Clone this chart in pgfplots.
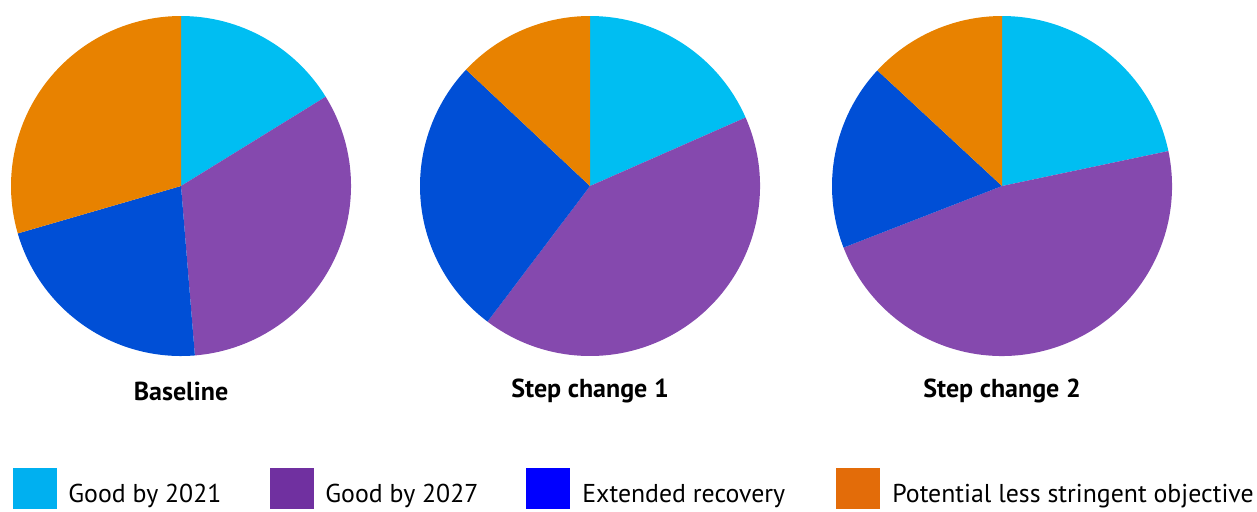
\documentclass[border=0pt]{standalone}
\usepackage{pgfplots}
\pgfplotsset{compat=1.18}
\usepackage{fontspec}
\setmainfont{PT Sans}
\definecolor{cA}{HTML}{00BEF2}
\definecolor{cB}{HTML}{8549AE}
\definecolor{cC}{HTML}{004FD6}
\definecolor{cD}{HTML}{E88200}
\definecolor{lA}{HTML}{00B0F0}
\definecolor{lB}{HTML}{7030A0}
\definecolor{lC}{HTML}{0000FF}
\definecolor{lD}{HTML}{E36C09}
% slice: cx, start (percent), size (percent), colour
\newcommand\slice[4]{%
  \fill[#4] (axis cs:#1,186) -- ++({90-3.6*(#2)}:85pt)
    arc[start angle={90-3.6*(#2)}, delta angle={-3.6*(#3)}, radius=85pt] -- cycle;}
% pie: cx, a, b, c, d (percentages, clockwise from 12 o'clock)
\newcommand\pie[5]{%
  \pgfmathsetmacro\cb{#2}%
  \pgfmathsetmacro\cc{#2+#3}%
  \pgfmathsetmacro\cd{#2+#3+#4}%
  \slice{#1}{0}{#2}{cA}%
  \slice{#1}{\cb}{#3}{cB}%
  \slice{#1}{\cc}{#4}{cC}%
  \slice{#1}{\cd}{#5}{cD}}
\begin{document}
\begin{tikzpicture}
\begin{axis}[
  x=0.5pt, y=0.5pt, xmin=0, xmax=1257, ymin=0, ymax=511, y dir=reverse,
  ticks=none, axis line style={draw=none}, clip=false]
\pgfplotsextra{%
  \pie{181}{16.2}{32.5}{21.8}{29.5}%
  \pie{590}{18.4}{41.9}{26.7}{13.0}%
  \pie{1002}{21.7}{47.4}{17.8}{13.1}%
}
\node[font=\fontsize{13}{15}\selectfont\bfseries] at (axis cs:181,391) {Baseline};
\node[font=\fontsize{13}{15}\selectfont\bfseries] at (axis cs:590,391) {Step change 1};
\node[font=\fontsize{13}{15}\selectfont\bfseries] at (axis cs:1002,391) {Step change 2};
\fill[lA] (axis cs:13,468) rectangle (axis cs:57,509);
\fill[lB] (axis cs:270,468) rectangle (axis cs:314,509);
\fill[lC] (axis cs:526,468) rectangle (axis cs:570,509);
\fill[lD] (axis cs:836,468) rectangle (axis cs:880,509);
\node[anchor=west, inner sep=0pt, font=\fontsize{12.9}{14}\selectfont] at (axis cs:68,496) {Good by 2021};
\node[anchor=west, inner sep=0pt, font=\fontsize{12.9}{14}\selectfont] at (axis cs:325,496) {Good by 2027};
\node[anchor=west, inner sep=0pt, font=\fontsize{12.9}{14}\selectfont] at (axis cs:582,496) {Extended recovery};
\node[anchor=west, inner sep=0pt, font=\fontsize{12.9}{14}\selectfont] at (axis cs:892,496) {Potential less stringent objective};
\end{axis}
\end{tikzpicture}
\end{document}
